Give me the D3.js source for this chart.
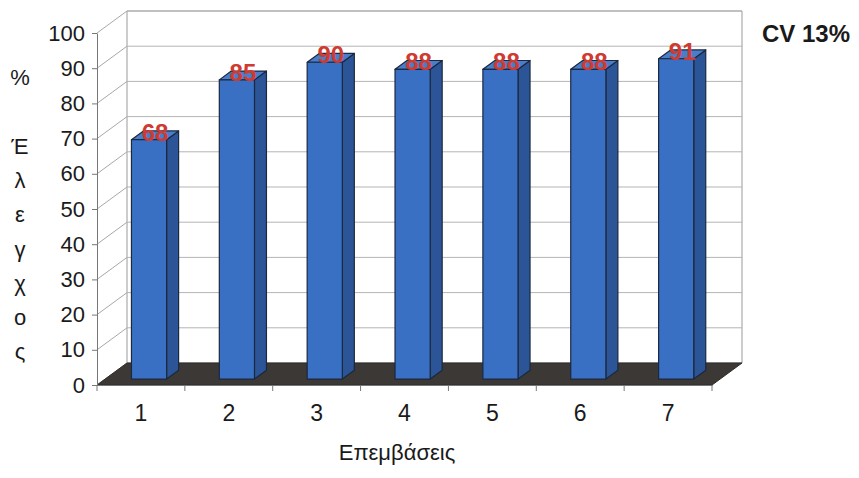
<!DOCTYPE html>
<html>
<head>
<meta charset="utf-8">
<script src="https://cdn.jsdelivr.net/npm/d3@7/dist/d3.min.js"></script>
<style>
  html, body { margin: 0; padding: 0; background: #fff; }
  svg { display: block; font-family: "Liberation Sans", Arial, sans-serif; }
</style>
</head>
<body>
<svg id="chart" width="859" height="478"></svg>
<script>
// Data
const categories = ["1", "2", "3", "4", "5", "6", "7"];
const values = [68, 85, 90, 88, 88, 88, 91];
const yTicks = [0, 10, 20, 30, 40, 50, 60, 70, 80, 90, 100];
const yTitleLines = ["%", "", "Έ", "λ", "ε", "γ", "χ", "ο", "ς"];
const xTitle = "Επεμβάσεις";
const note = "CV 13%";

const svg = d3.select("#chart");

// Front plane of the 3D box and the depth offset to the back wall
const x0 = 97, x1 = 712, yBottom = 385, yTop = 33;
const DX = 30, DY = -22;

const x = d3.scaleBand().domain(categories).range([x0, x1]).paddingInner(0).paddingOuter(0);
const y = d3.scaleLinear().domain([0, 100]).range([yBottom, yTop]);

// point projected at depth fraction f (0 = front, 1 = back wall)
const P = (px, py, f) => [px + f * DX, py + f * DY];
const poly = pts => pts.map(p => p.join(",")).join(" ");

// Back wall
const g = svg.append("g");
g.append("polygon")
  .attr("points", poly([P(x0, y(0), 1), P(x1, y(0), 1), P(x1, y(100), 1), P(x0, y(100), 1)]))
  .attr("fill", "#fff").attr("stroke", "#9a9a9a").attr("stroke-width", 1);

// Gridlines on back wall and left wall
yTicks.forEach(t => {
  const a = P(x0, y(t), 1), b = P(x1, y(t), 1);
  if (t > 0) {
    g.append("line").attr("x1", a[0]).attr("y1", a[1]).attr("x2", b[0]).attr("y2", b[1])
      .attr("stroke", "#b4b4b4").attr("stroke-width", 1);
  }
  const c = P(x0, y(t), 0);
  g.append("line").attr("x1", c[0]).attr("y1", c[1]).attr("x2", a[0]).attr("y2", a[1])
    .attr("stroke", "#a8a8a8").attr("stroke-width", 1);
});

// Floor
g.append("polygon")
  .attr("points", poly([P(x0, y(0), 0), P(x1, y(0), 0), P(x1, y(0), 1), P(x0, y(0), 1)]))
  .attr("fill", "#3c3836").attr("stroke", "#2e2b29").attr("stroke-width", 1);

// Bars
const f0 = 0.27, f1 = 0.67;
const bw = x.bandwidth() * 0.4;
const bars = g.append("g").selectAll("g").data(categories.map((c, i) => ({ c, v: values[i] })))
  .join("g");

bars.each(function(d) {
  const sel = d3.select(this);
  const left = x(d.c) + x.bandwidth() / 2 - bw / 2;
  const right = left + bw;
  const fb = P(left, y(0), f0), fbr = P(right, y(0), f0);
  const ft = P(left, y(d.v), f0), ftr = P(right, y(d.v), f0);
  const bt = P(left, y(d.v), f1), btr = P(right, y(d.v), f1), bbr = P(right, y(0), f1);
  // side face
  sel.append("polygon").attr("points", poly([fbr, ftr, btr, bbr]))
    .attr("fill", "#2c5597").attr("stroke", "#1a2940").attr("stroke-width", 1.2).attr("stroke-linejoin", "round");
  // top face
  sel.append("polygon").attr("points", poly([ft, ftr, btr, bt]))
    .attr("fill", "#4a7ecb").attr("stroke", "#1a2940").attr("stroke-width", 1.2).attr("stroke-linejoin", "round");
  // front face
  sel.append("polygon").attr("points", poly([fb, fbr, ftr, ft]))
    .attr("fill", "#3a70c3").attr("stroke", "#1a2940").attr("stroke-width", 1.2).attr("stroke-linejoin", "round");
});

// Value labels
bars.append("text")
  .attr("x", d => x(d.c) + x.bandwidth() / 2 + f0 * DX + (f1 - f0) * DX / 2)
  .attr("y", d => P(0, y(d.v), f0)[1] + 1)
  .attr("text-anchor", "middle")
  .attr("font-size", 24)
  .attr("font-weight", "bold")
  .attr("fill", "#cf3b31")
  .text(d => d.v);

// Y axis (front-left edge)
const yAxis = svg.append("g").attr("transform", `translate(${x0},0)`)
  .call(d3.axisLeft(y).tickValues(yTicks).tickSize(5).tickPadding(7).tickSizeOuter(0));
yAxis.selectAll("text").attr("font-size", 22).attr("fill", "#1a1a1a").attr("font-family", "Liberation Sans, Arial, sans-serif");
yAxis.selectAll("line").attr("stroke", "#777");
yAxis.select(".domain").attr("stroke", "#777");

// X axis (front floor edge): labels at band centres, ticks at band boundaries
const xAxis = svg.append("g").attr("transform", `translate(0,${yBottom})`)
  .call(d3.axisBottom(x).tickSize(0).tickPadding(20));
xAxis.select(".domain").attr("stroke", "#777");
xAxis.selectAll("text").attr("font-size", 23).attr("fill", "#1a1a1a").attr("font-family", "Liberation Sans, Arial, sans-serif");
const bounds = categories.map(c => x(c)).concat([x1]);
xAxis.selectAll("line.bound").data(bounds).join("line").attr("class", "bound")
  .attr("x1", d => d).attr("x2", d => d).attr("y1", 0).attr("y2", 6).attr("stroke", "#777");

// Axis titles
svg.append("text").attr("x", 397).attr("y", 460).attr("text-anchor", "middle")
  .attr("font-size", 22).attr("fill", "#1a1a1a").text(xTitle);

svg.append("g").selectAll("text").data(yTitleLines).join("text")
  .attr("x", 20).attr("y", (d, i) => 85 + i * 34.3)
  .attr("text-anchor", "middle").attr("font-size", 22).attr("fill", "#1a1a1a")
  .text(d => d);

// Note
svg.append("text").attr("x", 762).attr("y", 42).attr("font-size", 24).attr("font-weight", "bold")
  .attr("fill", "#1a1a1a").text(note);
</script>
</body>
</html>
